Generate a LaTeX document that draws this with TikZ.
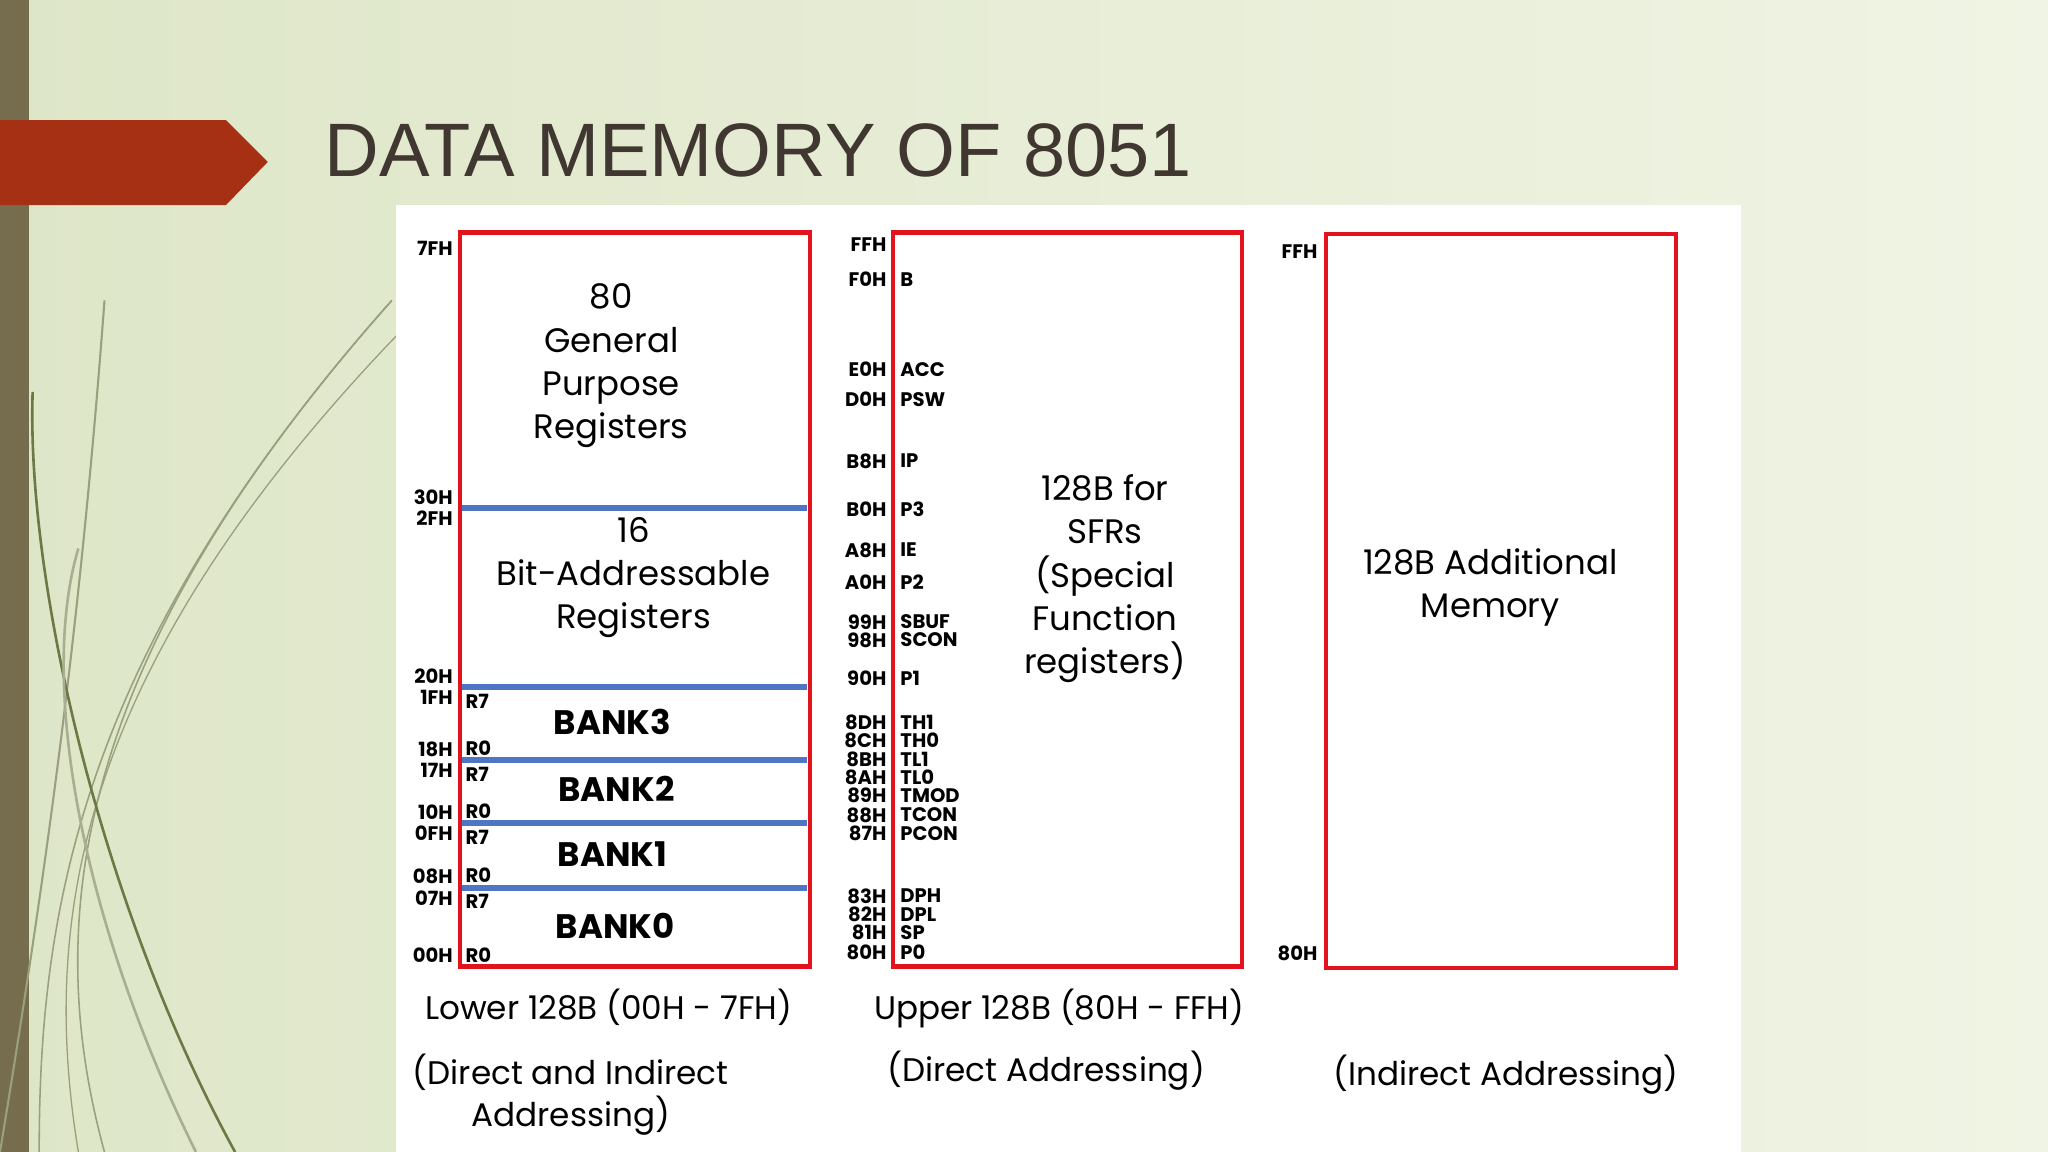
\documentclass[tikz,border=0pt]{standalone}
\usepackage{fontspec}
\setmainfont{Poppins}
\newfontfamily\titlefont{Liberation Sans}
\usetikzlibrary{positioning}
\definecolor{bgleft}{RGB}{222,230,200}
\definecolor{bgright}{RGB}{240,244,228}
\definecolor{oliveBar}{RGB}{118,108,78}
\definecolor{banner}{RGB}{166,48,20}
\definecolor{titleGray}{RGB}{64,56,48}
\definecolor{memRed}{RGB}{225,20,30}
\definecolor{memBlue}{RGB}{78,118,196}
\definecolor{swoosh}{RGB}{110,120,70}
\begin{document}
\begin{tikzpicture}[x=0.5pt, y=-0.5pt,
  membox/.style={draw=memRed, line width=1.6pt},
  divider/.style={draw=memBlue, line width=2.4pt},
  addr/.style={anchor=east, inner sep=0pt, font=\fontsize{7.5}{8}\selectfont\bfseries},
  reg/.style={anchor=west, inner sep=0pt, font=\fontsize{7.5}{8}\selectfont\bfseries},
  body/.style={align=center, inner sep=0pt, font=\fontsize{13}{16.5}\selectfont},
  caption/.style={align=center, inner sep=0pt, font=\fontsize{12.5}{16}\selectfont},
]
  % background
  \useasboundingbox (0,0) rectangle (1568,882);
  \shade[left color=bgleft, right color=bgright] (0,0) rectangle (1568,882);
  \fill[oliveBar] (0,0) rectangle (22,882);
  \foreach \s/\e/\w in {80/0/0.8, 300/80/0.6, 300/30/0.6, 330/60/0.5}
    \draw[swoosh!70, line width=\w pt] (\e,882) .. controls (30,700) and (60,500) .. (\s,230);
  \draw[swoosh, line width=1pt] (180,882) .. controls (80,700) and (20,450) .. (25,300);
  \draw[swoosh!60, line width=1pt] (150,882) .. controls (60,700) and (30,520) .. (60,420);

  % title banner
  \fill[banner] (0,92) -- (173,92) -- (205,124) -- (173,157) -- (0,157) -- cycle;
  \node[anchor=base west, inner sep=0pt, text=titleGray,
        font=\titlefont\fontsize{29}{32}\selectfont] (title) at (248,135) {DATA MEMORY OF 8051};

  % white panel
  \fill[white] (303,157) rectangle (1333,882);

  % lower 128B
  \draw[membox] (352,178) rectangle (620,740);
  \foreach \y [count=\i] in {389,526,582,630,680}
    \draw[divider] (354,\y) coordinate (dl\i) -- (618,\y) coordinate (dr\i);
  \node[body] (gpr) at (468,280) {80\\General\\Purpose\\Registers};
  \node[body] (bitreg) at (485,442) {16\\Bit-Addressable\\Registers};
  \node[body] (bank3) at (469,553) {\bfseries BANK3};
  \node[body] (bank2) at (472,604) {\bfseries BANK2};
  \node[body] (bank1) at (469,654) {\bfseries BANK1};
  \node[body] (bank0) at (471,709) {\bfseries BANK0};
  \foreach \t/\y [count=\i] in {7FH/190,30H/381,2FH/397,20H/518,1FH/534,18H/574,17H/590,
                                10H/622,0FH/638,08H/671,07H/688,00H/731}
    \node[addr] (la\i) at (347,\y) {\t};
  \foreach \t/\y [count=\i] in {R7/537,R0/573,R7/593,R0/621,R7/641,R0/670,R7/690,R0/731}
    \node[reg] (lr\i) at (356,\y) {\t};

  % upper 128B
  \draw[membox] (684,178) rectangle (951,740);
  \node[body] (sfr) at (846,443) {128B for\\SFRs\\(Special\\Function\\registers)};
  \foreach \t/\n/\y [count=\i] in {FFH//187,F0H/B/214,E0H/ACC/283,D0H/PSW/306,B8H/IP/353,
      B0H/P3/390,A8H/IE/421,A0H/P2/446,99H/SBUF/476,98H/SCON/490,90H/P1/519,
      8DH/TH1/553,8CH/TH0/567,8BH/TL1/581,8AH/TL0/595,89H/TMOD/609,88H/TCON/624,
      87H/PCON/638,83H/DPH/686,82H/DPL/700,81H/SP/714,80H/P0/729}
  {
    \node[addr] (ua\i) at (679,\y) {\t};
    \node[reg] (ur\i) at (689,\y) {\n};
  }

  % additional 128B
  \draw[membox] (1015,179) rectangle (1283,741);
  \node[body] (extra) at (1141,450) {128B Additional\\Memory};
  \node[addr] (xa1) at (1009,193) {FFH};
  \node[addr] (xa2) at (1009,730) {80H};

  % captions
  \node[caption] (lowcap) at (466,771) {Lower 128B (00H - 7FH)};
  \node[caption] (upcap) at (811,772) {Upper 128B (80H - FFH)};
  \node[caption] (lowmode) at (437,838) {(Direct and Indirect\\Addressing)};
  \node[caption] (upmode) at (801,820) {(Direct Addressing)};
  \node[caption] (xmode) at (1153,823) {(Indirect Addressing)};
\end{tikzpicture}
\end{document}
